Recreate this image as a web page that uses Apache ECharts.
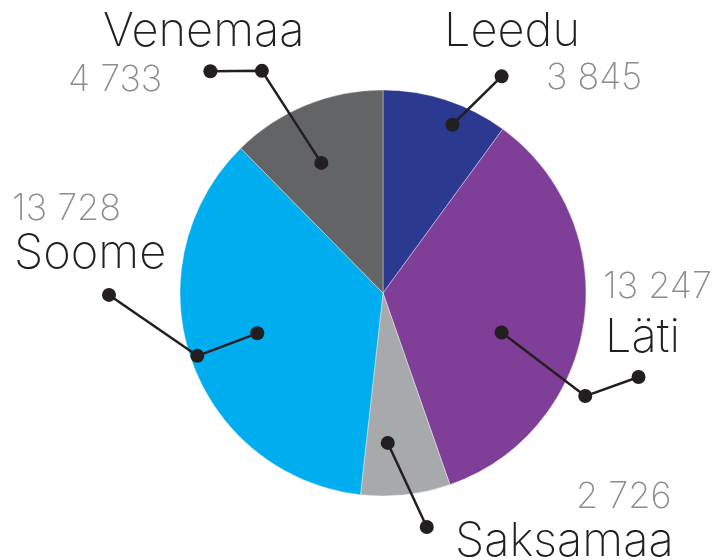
<!DOCTYPE html>
<html>
<head>
<meta charset="utf-8">
<script src="https://cdn.jsdelivr.net/npm/echarts@6/dist/echarts.min.js"></script>
<style>
  html, body { margin: 0; padding: 0; background: #fff; }
  #main { width: 714px; height: 560px; }
</style>
</head>
<body>
<div id="main"></div>
<script>
// andmed
var countries = ['Leedu', 'Läti', 'Saksamaa', 'Soome', 'Venemaa'];
var amounts = [3845, 13247, 2726, 13728, 4733];
var colors = ['#2b3990', '#7f3f98', '#a7a9ac', '#00aeef', '#636466'];

// paigutus (px / kraadid)
var CX = 383, CY = 293, R = 203;
// label positions: [nameX, nameY, valueX, valueY]
var labelPos = [
  [444, 32, 546, 78],
  [605, 338, 603, 287],
  [455, 542, 576, 497],
  [14, 254, 12, 209],
  [103, 32, 68, 80]
];
// leader lines: where the inner dot sits in the slice (fraction of span, radius px)
// and the outer points as [radius px, angle deg]
var leaderIn = [[0.62, 182], [0.58, 125], [0.68, 150], [0.51, 132], [0.43, 144]];
var leaderOut = [
  [[247, 28.7]],
  [[227, 117.0], [269, 108.2]],
  [[238, 169.4]],
  [[196, 251.3], [274, 269.6]],
  [[253, 331.4], [281, 322.1]]
];

function fmt(v) {
  return String(v).replace(/\B(?=(\d{3})+(?!\d))/g, ' ');
}

var myChart = echarts.init(document.getElementById('main'));

var total = amounts.reduce(function (a, b) { return a + b; }, 0);
var pieData = countries.map(function (c, i) {
  return { name: c, value: amounts[i], itemStyle: { color: colors[i] } };
});

var leaderSeries = [];
var acc = 0;
amounts.forEach(function (v, i) {
  var start = acc / total * 360;
  var span = v / total * 360;
  acc += v;
  var pts = [[leaderIn[i][1], start + span * leaderIn[i][0]]].concat(leaderOut[i]);
  leaderSeries.push({
    type: 'line',
    coordinateSystem: 'polar',
    data: pts,
    symbol: 'circle',
    symbolSize: 14,
    showAllSymbol: true,
    clip: false,
    silent: true,
    z: 10,
    lineStyle: { color: '#231f20', width: 2.5 },
    itemStyle: { color: '#231f20' }
  });
});

var font = 'Inter, "Noto Sans", sans-serif';
var POLAR_R = 320; // polar area bigger than the pie so leaders aren't clipped

var option = {
  animation: false,
  polar: { center: [CX, CY], radius: POLAR_R },
  angleAxis: { type: 'value', min: 0, max: 360, startAngle: 90, clockwise: true, show: false },
  radiusAxis: { type: 'value', min: 0, max: POLAR_R, show: false },
  series: [
    {
      type: 'pie',
      center: [CX, CY],
      radius: R,
      startAngle: 90,
      clockwise: true,
      silent: true,
      data: pieData,
      itemStyle: { borderColor: 'rgba(255,255,255,0.6)', borderWidth: 0.6 },
      label: {
        show: true,
        formatter: '{b}',
        fontFamily: font,
        fontWeight: 200,
        fontSize: 47,
        color: '#231f20',
        overflow: 'none'
      },
      labelLine: { show: false },
      labelLayout: function (p) {
        var q = labelPos[p.dataIndex];
        return { x: q[0], y: q[1], align: 'left', verticalAlign: 'middle' };
      }
    },
    {
      type: 'pie',
      center: [CX, CY],
      radius: R,
      startAngle: 90,
      clockwise: true,
      silent: true,
      z: 1,
      data: pieData.map(function (d) { return { name: d.name, value: d.value, itemStyle: { color: 'rgba(0,0,0,0)' } }; }),
      label: {
        show: true,
        formatter: function (p) { return fmt(p.value); },
        fontFamily: font,
        fontWeight: 200,
        fontSize: 36,
        color: '#8c8c8c',
        overflow: 'none'
      },
      labelLine: { show: false },
      labelLayout: function (p) {
        var q = labelPos[p.dataIndex];
        return { x: q[2], y: q[3], align: 'left', verticalAlign: 'middle' };
      }
    }
  ].concat(leaderSeries)
};

myChart.setOption(option);
</script>
</body>
</html>
